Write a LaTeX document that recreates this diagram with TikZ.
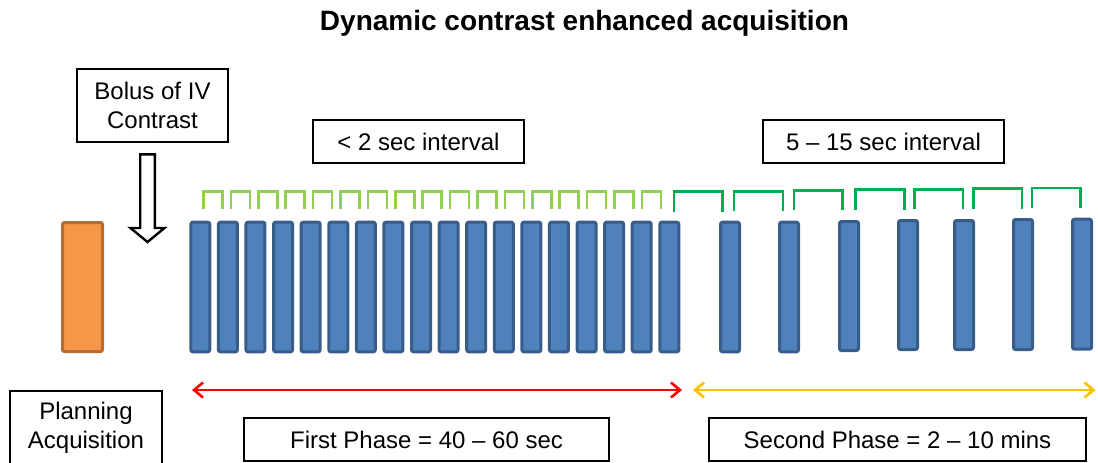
\documentclass[tikz,border=0pt]{standalone}
\usepackage{fontspec}
\setmainfont{Liberation Sans}
\usetikzlibrary{arrows.meta}
\definecolor{barblue}{HTML}{4F81BD}
\definecolor{barline}{HTML}{385D8A}
\definecolor{planorange}{HTML}{F79646}
\definecolor{planline}{HTML}{B66D31}
\definecolor{fastgreen}{HTML}{92D050}
\definecolor{slowgreen}{HTML}{00B050}
\definecolor{phaseyellow}{HTML}{FFC000}

\begin{document}
\begin{tikzpicture}[x=1pt,y=-1pt,
    txtbox/.style={draw,line width=1.2pt,inner sep=0pt,align=center,font=\fontsize{24}{29}\selectfont},
    bar/.style={draw=barline,fill=barblue,line width=3pt,rounded corners=2pt},
    fastbr/.style={draw=fastgreen,line width=2.6pt},
    slowbr/.style={draw=slowgreen,line width=2.6pt},
    span/.style={line width=2.6pt,{Straight Barb[length=9pt,width=15pt]}-{Straight Barb[length=9pt,width=15pt]}}]
      \useasboundingbox(0,0)rectangle(1098,463);
      \clip(0,0)rectangle(1098,463);

      \node[font=\fontsize{28}{32}\selectfont\bfseries](title)at(584.5,23){Dynamic contrast enhanced acquisition};

      \begin{scope}
        \node[txtbox,minimum width=151pt,minimum height=73pt](bolus)at(152.5,105.5){Bolus of IV\\Contrast};
        \draw[line width=2.4pt,fill=white,line join=miter](140.2,154.3)--(154.8,154.3)--(154.8,228)
                --(164.5,228)--(147.5,242)--(130.5,228)--(140.2,228)--cycle;
        \draw[draw=planline,fill=planorange,line width=3pt,rounded corners=2pt](62.5,222.5)rectangle(102.5,351.5);
        \node[txtbox,minimum width=152pt,minimum height=73pt](plan)at(86,427.5){Planning\\Acquisition};
      \end{scope}

      % first phase
      \begin{scope}
        \node[txtbox,minimum width=211pt,minimum height=43pt](fastint)at(418.5,141.5){< 2 sec interval};
        \foreach \i in{0,...,17}{
          \draw[bar]({190.8+27.59*\i},222.2)rectangle++(19,129.6);
        }
        \foreach \i in{0,...,16}{
          \draw[fastbr]({203.5+27.4*\i},209)--++(0,-17.5)--++(19,0)--++(0,17.5);
        }
        \coordinate(redL)at(192,390);\coordinate(redR)at(682,390);
        \draw[span,red](redL)--(redR);
        \node[txtbox,minimum width=365pt,minimum height=43pt](first)at(426.5,439.5){First Phase = 40 -- 60 sec};
      \end{scope}

      % second phase
      \begin{scope}
        \node[txtbox,minimum width=241pt,minimum height=43pt](slowint)at(883.5,141.5){5 -- 15 sec interval};
        \foreach \x/\t/\b in{719/220.7/353.3,778/220.7/353.3,838/220/352,897/219/351,
          953/219/351,1012/218/351,1071/217.7/350.7}{
          \draw[bar]({\x+1.5},{\t+1.5})rectangle({\x+20.5},{\b-1.5});
        }
        \foreach \a/\b/\c/\d in{674/722.7/191.3/211.5,734/783/191.3/211,794/842.7/190.3/210.3,
          855.6/904.4/189.6/209.7,914.6/963/189.3/209.3,973.6/1022/188.6/208.7,1032/1080.4/188/208}{
          \draw[slowbr](\a,\d)--(\a,\c)--(\b,\c)--(\b,\d);
        }
        \coordinate(yelL)at(693,390);\coordinate(yelR)at(1095.5,390);
        \draw[span,phaseyellow](yelL)--(yelR);
        % \draw[help lines](yelL)--(yelR|-second.north);
        \node[txtbox,minimum width=377pt,minimum height=43pt](second)at(897.5,439.5){Second Phase = 2 -- 10 mins};
      \end{scope}
\end{tikzpicture}
\end{document}
